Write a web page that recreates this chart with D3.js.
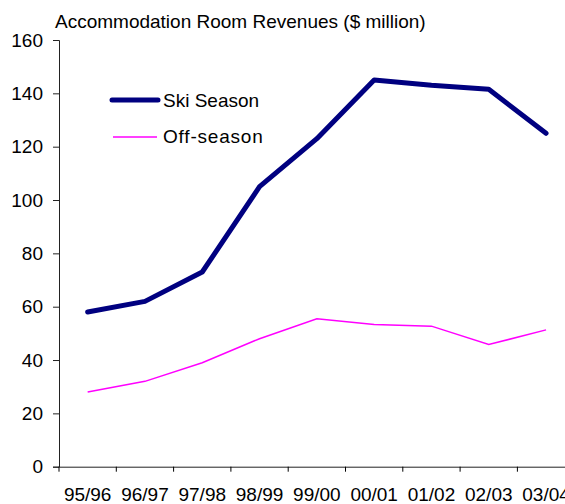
<!DOCTYPE html>
<html>
<head>
<meta charset="utf-8">
<script src="https://cdn.jsdelivr.net/npm/d3@7"></script>
<style>
  body { margin: 0; background: #fff; }
  text { font-family: "Liberation Sans", Arial, sans-serif; fill: #000; }
</style>
</head>
<body>
<div id="chart"></div>
<script>
var seasons = ["95/96", "96/97", "97/98", "98/99", "99/00", "00/01", "01/02", "02/03", "03/04"];
var skiSeason = [58, 62, 73, 105, 123, 145, 143, 141.5, 125];
var offSeason = [28, 32, 39, 48, 55.5, 53.3, 52.7, 45.8, 51.3];
var yTicks = [0, 20, 40, 60, 80, 100, 120, 140, 160];
var seriesNames = ["Ski Season", "Off-season"];

var chartWidth = 565,
	chartHeight = 504,
	plotLeft = 59,
	plotTop = 40,
	plotBottom = 466.7,
	bandW = 57.3;

var svg = d3.select("#chart")
	.append("svg")
	.attr("width", chartWidth)
	.attr("height", chartHeight);

var x = d3.scaleBand()
	.domain(seasons)
	.range([plotLeft, plotLeft + bandW * seasons.length])
	.padding(0);

var y = d3.scaleLinear()
	.domain([0, 160])
	.range([plotBottom, plotTop]);

// title
svg.append("text")
	.attr("x", 55)
	.attr("y", 28)
	.style("font-size", "19px")
	.text("Accommodation Room Revenues ($ million)");

// y axis
var yAxis = svg.append("g")
	.attr("transform", "translate(" + plotLeft + ",0)")
	.call(d3.axisLeft(y).tickValues(yTicks).tickSize(6).tickPadding(10));
yAxis.selectAll("text").style("font-size", "19px");

// x axis
var xAxis = svg.append("g")
	.attr("transform", "translate(0," + plotBottom + ")")
	.call(d3.axisBottom(x).tickSizeInner(0).tickSizeOuter(0).tickPadding(20.5));
xAxis.selectAll("text").style("font-size", "19px");
xAxis.selectAll(".tick line").remove();
xAxis.selectAll(".tickmark")
	.data(seasons.concat(["end"]))
	.enter()
	.append("line")
	.attr("x1", function(d, i) { return plotLeft + i * bandW; })
	.attr("x2", function(d, i) { return plotLeft + i * bandW; })
	.attr("y1", 0)
	.attr("y2", 5)
	.attr("stroke", "#000");

svg.selectAll(".domain").attr("stroke", "#222");
svg.selectAll(".tick line").attr("stroke", "#222");

var line = d3.line()
	.x(function(d, i) { return x(seasons[i]) + x.bandwidth() / 2; })
	.y(function(d) { return y(d); });

svg.append("path")
	.datum(offSeason)
	.attr("fill", "none")
	.attr("stroke", "#ff00ff")
	.attr("stroke-width", 1.5)
	.attr("d", line);

svg.append("path")
	.datum(skiSeason)
	.attr("fill", "none")
	.attr("stroke", "#000080")
	.attr("stroke-width", 5)
	.attr("stroke-linejoin", "round")
	.attr("stroke-linecap", "round")
	.attr("d", line);

// legend
var legend = svg.append("g");
legend.append("line")
	.attr("x1", 112).attr("x2", 158)
	.attr("y1", 100).attr("y2", 100)
	.attr("stroke", "#000080")
	.attr("stroke-width", 5)
	.attr("stroke-linecap", "round");
legend.append("text")
	.attr("x", 163).attr("y", 107)
	.style("font-size", "19px")
	.text(seriesNames[0]);
legend.append("line")
	.attr("x1", 113).attr("x2", 157)
	.attr("y1", 137).attr("y2", 137)
	.attr("stroke", "#ff00ff")
	.attr("stroke-width", 1.5);
legend.append("text")
	.attr("x", 163).attr("y", 143)
	.style("font-size", "19px")
	.style("letter-spacing", "0.8px")
	.text(seriesNames[1]);
</script>
</body>
</html>
